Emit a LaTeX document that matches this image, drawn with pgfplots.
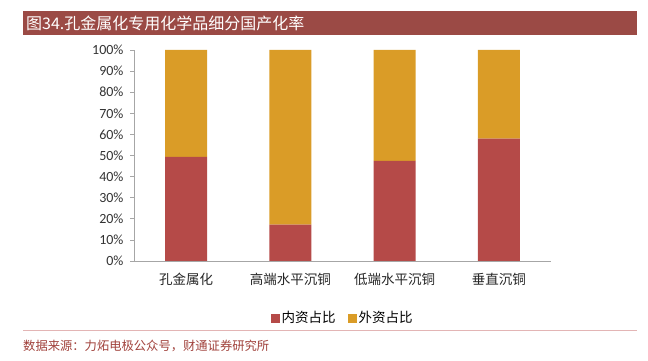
\documentclass[border=0pt]{standalone}
\usepackage{pgfplots}
\pgfplotsset{compat=1.18}
\usepackage{fontspec}
\setmainfont{Noto Sans CJK SC}
\newfontfamily\numfont{Carlito}
\definecolor{redbar}{HTML}{B54A48}
\definecolor{orgbar}{HTML}{DA9C27}
\definecolor{titlebg}{HTML}{9B4A45}
\definecolor{srccol}{HTML}{A0403A}
\definecolor{linecol}{HTML}{E3B5B5}
\definecolor{axgray}{HTML}{A6A6A6}
\begin{document}
\begin{tikzpicture}[x=1pt,y=1pt]
\path[use as bounding box] (0pt,0pt) rectangle (648pt,361pt);
% title bar
\fill[titlebg] (23pt,326pt) rectangle (637pt,350pt);
\node[anchor=west,text=white,font=\fontsize{16}{16}\selectfont,inner sep=0pt] at (26pt,338pt) {图34.孔金属化专用化学品细分国产化率};
% bottom line and source
\draw[linecol,line width=0.8pt] (23pt,31pt) -- (637pt,31pt);
\node[anchor=west,text=srccol,font=\fontsize{12.3}{12.3}\selectfont,inner sep=0pt] at (23pt,15pt) {数据来源：力炻电极公众号，财通证券研究所};
\begin{axis}[
  at={(134pt,100pt)}, anchor=south west,
  scale only axis, width=417pt, height=211pt,
  ybar stacked, bar width=42pt,
  xmin=-0.5, xmax=3.5, ymin=0, ymax=100,
  xtick={0,1,2,3},
  xticklabels={孔金属化,高端水平沉铜,低端水平沉铜,垂直沉铜},
  xticklabel style={font=\fontsize{13.5}{13.5}\selectfont, text=black!85},
  x tick label style={yshift=-5pt},
  major x tick style={draw=none},
  ytick={0,10,...,100},
  yticklabel={\numfont\pgfmathprintnumber{\tick}\%},
  yticklabel style={font=\fontsize{14}{14}\selectfont, text=black!80, xshift=-3pt},
  /pgf/number format/assume math mode=true,
  axis x line*=bottom, axis y line*=left,
  axis line style={axgray, line width=0.8pt},
  y axis line style={-},
  x axis line style={-},
  ytick style={axgray, line width=0.6pt},
  tick align=outside, major tick length=4pt,
  legend style={at={(0.5,-0.22)}, anchor=north, draw=none, legend columns=2,
    font=\fontsize{13.5}{13.5}\selectfont, /tikz/every even column/.append style={column sep=10pt}},
  legend image code/.code={\fill[#1] (0pt,-4.5pt) rectangle (9pt,4.5pt);},
]
\addplot[fill=redbar, draw=none] coordinates {(0,49.3) (1,17.2) (2,47.5) (3,58.0)};
\addplot[fill=orgbar, draw=none] coordinates {(0,50.7) (1,82.8) (2,52.5) (3,42.0)};
\legend{内资占比,外资占比}
\end{axis}
\end{tikzpicture}
\end{document}
